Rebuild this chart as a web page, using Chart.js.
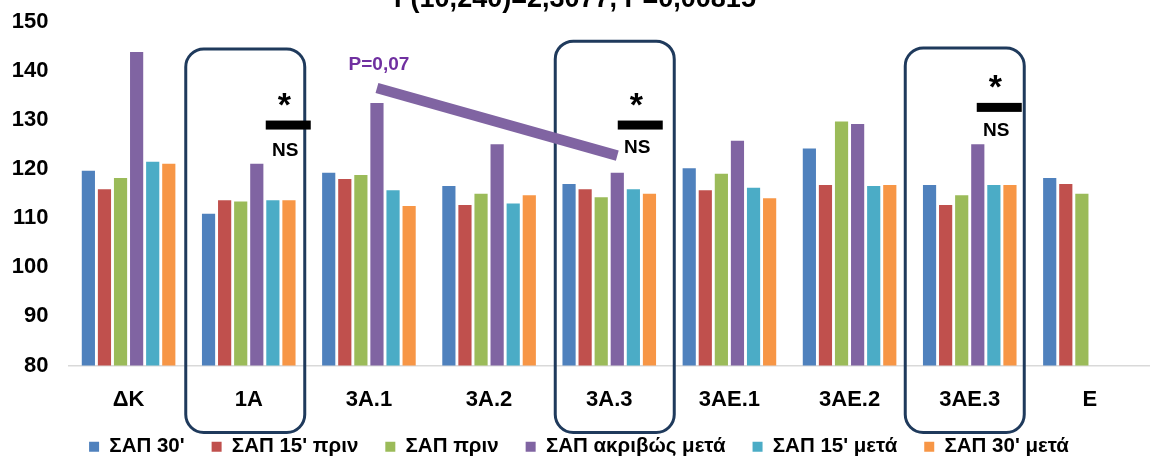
<!DOCTYPE html>
<html>
<head>
<meta charset="utf-8">
<script src="https://cdn.jsdelivr.net/npm/chart.js@4.4.1/dist/chart.umd.min.js"></script>
<style>
  html, body { margin: 0; padding: 0; background: #ffffff; }
  #wrap { width: 1150px; height: 461px; position: relative; }
</style>
</head>
<body>
<div id="wrap"><canvas id="c"></canvas></div>
<script>
// Groups on the x axis
const categories = ['ΔΚ', '1Α', '3Α.1', '3Α.2', '3Α.3', '3ΑΕ.1', '3ΑΕ.2', '3ΑΕ.3', 'Ε'];

// Systolic pressure (ΣΑΠ) per group and time point
const sap30Before  = [119.7, 110.9, 119.3, 116.6, 117.0, 120.2, 124.2, 116.8, 118.2];
const sap15Before  = [115.9, 113.7, 118.0, 112.7, 115.9, 115.7, 116.8, 112.7, 117.0];
const sapBefore    = [118.2, 113.4, 118.8, 115.0, 114.3, 119.1, 129.7, 114.7, 115.0];
const sapRightAfter = [143.9, 121.1, 133.5, 125.1, 119.3, 125.8, 129.2, 125.1, null];
const sap15After   = [121.5, 113.7, 115.7, 113.0, 115.9, 116.2, 116.6, 116.8, null];
const sap30After   = [121.1, 113.7, 112.5, 114.7, 115.0, 114.1, 116.8, 116.8, null];

const seriesNames = ["ΣΑΠ 30'", "ΣΑΠ 15' πριν", "ΣΑΠ πριν", "ΣΑΠ ακριβώς μετά", "ΣΑΠ 15' μετά", "ΣΑΠ 30' μετά"];
const seriesColors = ['#4F81BD', '#C0504D', '#9BBB59', '#8064A2', '#4BACC6', '#F79646'];
const seriesValues = [sap30Before, sap15Before, sapBefore, sapRightAfter, sap15After, sap30After];

// Y axis range
const yMin = 80, yMax = 150, yStep = 10;

const titleText = 'F(10,240)=2,3077, P=0,00815';
const trendLabel = 'P=0,07';

const FONT = "'Liberation Sans', Arial, sans-serif";

// Rounded frames around selected groups, significance bars and the trend line
const overlayPlugin = {
  id: 'overlay',
  afterDatasetsDraw(chart) {
    const ctx = chart.ctx;
    const x = chart.scales.x, y = chart.scales.y;
    const area = chart.chartArea;

    // partially visible heading
    ctx.save();
    ctx.fillStyle = '#000';
    ctx.font = `bold 27px ${FONT}`;
    ctx.textAlign = 'center';
    ctx.textBaseline = 'alphabetic';
    ctx.fillText(titleText, chart.width / 2, 7);
    ctx.restore();

    // frames
    const frames = [
      { cat: 1, dx: -3.5, top: 144.5 },
      { cat: 4, dx: 5.5, top: 146.1 },
      { cat: 7, dx: -5, top: 144.7 }
    ];
    ctx.save();
    ctx.strokeStyle = '#1F3A5C';
    ctx.lineWidth = 3;
    frames.forEach(f => {
      const cx = x.getPixelForValue(f.cat) + f.dx;
      const w = 119;
      const t = y.getPixelForValue(f.top);
      const b = area.bottom + 67;
      ctx.beginPath();
      ctx.roundRect(cx - w / 2, t, w, b - t, 18);
      ctx.stroke();
    });
    ctx.restore();

    // significance marks: "*" over a black bar, "NS" below
    const marks = [
      { cat: 1, dx: 39.5, level: 129.0, ns: 26 },
      { cat: 4, dx: 31, level: 129.0, ns: 23 },
      { cat: 7, dx: 29.5, level: 132.6, ns: 23 }
    ];
    ctx.save();
    marks.forEach(m => {
      const cx = x.getPixelForValue(m.cat) + m.dx;
      const cy = y.getPixelForValue(m.level);
      ctx.fillStyle = '#000';
      ctx.fillRect(cx - 22.5, cy - 4.5, 45, 9);
      ctx.textAlign = 'center';
      ctx.font = `bold 34px ${FONT}`;
      ctx.textBaseline = 'alphabetic';
      ctx.fillText('*', cx - 4, cy - 9);
      ctx.font = `bold 19px ${FONT}`;
      ctx.textBaseline = 'middle';
      ctx.fillText('NS', cx - 3, cy + m.ns);
    });
    ctx.restore();

    // trend line between the "right after" bars of 3Α.1 and 3Α.3
    const meta = chart.getDatasetMeta(3);
    const p1 = meta.data[2], p2 = meta.data[4];
    const y1 = y.getPixelForValue(sapRightAfter[2]) - 15;
    const y2 = y.getPixelForValue(sapRightAfter[4]) - 17;
    ctx.save();
    ctx.strokeStyle = '#8064A2';
    ctx.lineWidth = 10.5;
    ctx.lineCap = 'butt';
    ctx.beginPath();
    ctx.moveTo(p1.x, y1);
    ctx.lineTo(p2.x, y2);
    ctx.stroke();
    ctx.fillStyle = '#7030A0';
    ctx.font = `bold 19px ${FONT}`;
    ctx.textAlign = 'center';
    ctx.textBaseline = 'middle';
    ctx.fillText(trendLabel, p1.x + 2, y1 - 23);
    ctx.restore();
  }
};

new Chart(document.getElementById('c'), {
  type: 'bar',
  data: {
    labels: categories,
    datasets: seriesValues.map((vals, i) => ({
      label: seriesNames[i],
      data: vals,
      backgroundColor: seriesColors[i],
      borderWidth: 0,
      categoryPercentage: 0.803,
      barPercentage: 0.82
    }))
  },
  options: {
    responsive: true,
    maintainAspectRatio: false,
    animation: false,
    layout: { padding: { top: 22, right: -8, bottom: -6, left: 0 } },
    plugins: {
      title: { display: false },
      tooltip: { enabled: false },
      legend: {
        position: 'bottom',
        labels: {
          boxWidth: 10,
          boxHeight: 10,
          padding: 27,
          color: '#000',
          font: { family: FONT, size: 20.5, weight: 'bold' }
        }
      }
    },
    scales: {
      x: {
        grid: { display: false, drawTicks: false },
        border: { color: '#D9D9D9', width: 1.5 },
        ticks: {
          color: '#000',
          padding: 21,
          font: { family: FONT, size: 22, weight: 'bold' }
        },
        afterFit(scale) { scale.height = 44; }
      },
      y: {
        min: yMin,
        max: yMax,
        grid: { display: false, drawTicks: false },
        border: { display: false },
        ticks: {
          stepSize: yStep,
          color: '#000',
          padding: 20,
          font: { family: FONT, size: 22, weight: 'bold' }
        },
        afterFit(scale) {
          scale.width = 68.5;
          scale.paddingTop = 12;
          scale.paddingBottom = 12;
        }
      }
    }
  },
  plugins: [overlayPlugin]
});
</script>
</body>
</html>
